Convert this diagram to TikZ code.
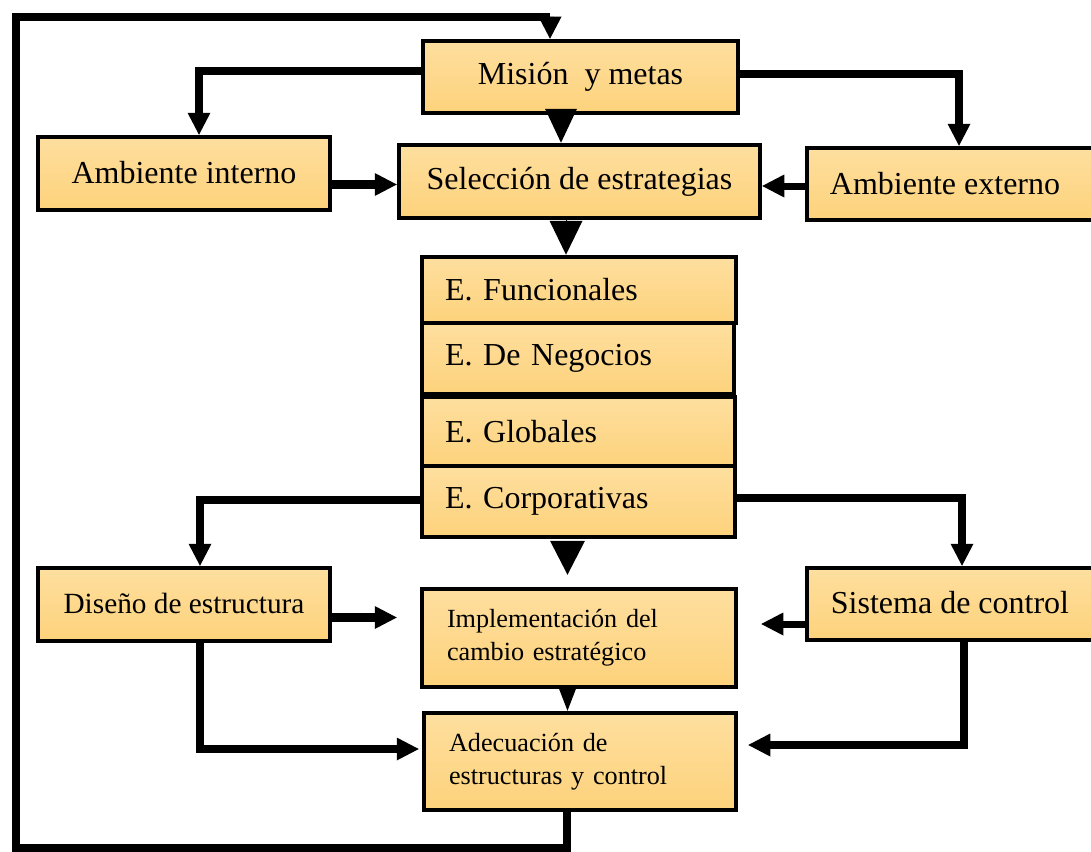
\documentclass[tikz,border=0pt]{standalone}
\usepackage{fontspec}
\setmainfont{Liberation Serif}
\usetikzlibrary{arrows.meta}
\frenchspacing

\definecolor{boxtop}{HTML}{FEDF9F}
\definecolor{boxbot}{HTML}{FDD27B}

\tikzset{
  box/.style={draw=black, line width=4.5pt, top color=boxtop, bottom color=boxbot,
    inner sep=0pt, font=\fontsize{32}{38}\selectfont},
  listbox/.style={box, align=left, inner xsep=23pt, text width=#1},
  smallbox/.style={box, align=left, inner xsep=25pt, text width=#1,
    font=\fontsize{26.2}{33}\selectfont},
  conn/.style={draw=black, line width=8pt, line join=miter,
    -{Triangle[width=23pt, length=22pt, line width=0pt]}},
  bigtip/.style={draw=black, line width=1pt,
    -{Triangle[width=#1, length=34pt, line width=0pt]}},
}

\begin{document}
\begin{tikzpicture}[x=1pt, y=-1pt]
\useasboundingbox (0,0) rectangle (1091,851);

% boxes
\node[box, minimum width=315pt, minimum height=72pt] (mis) at (580.5,77) {Misión~ y metas};
\node[box, minimum width=292pt, minimum height=73pt] (ai) at (184,173.5) {\raisebox{3pt}{Ambiente interno}};
\node[box, minimum width=361pt, minimum height=73pt] (sel) at (579.5,181.5) {Selección de estrategias};
\node[box, minimum width=286pt, minimum height=72pt] (ae) at (950,184) {\hspace*{-10pt}Ambiente externo};

\node[listbox=268pt, minimum height=66pt] (ef) at (579,290) {E. Funcionales};
\node[listbox=266pt, minimum height=71pt] (en) at (578,358.5) {E. De Negocios};
\node[listbox=267pt, minimum height=69pt] (eg) at (578.5,431.5) {E. Globales};
\node[listbox=267pt, minimum height=71pt] (ec) at (578.5,501.5) {E. Corporativas};

\node[box, minimum width=292pt, minimum height=73pt, font=\fontsize{29.3}{35}\selectfont] (dis) at (184,604.5) {\raisebox{3pt}{Diseño de estructura}};
\node[smallbox=264pt, minimum height=98pt] (imp) at (579,638) {Implementación del\\cambio estratégico};
\node[box, minimum width=286pt, minimum height=72pt] (sis) at (950,604) {\raisebox{3pt}{Sistema de control}};
\node[smallbox=262pt, minimum height=97pt] (ade) at (580,761.5) {Adecuación de\\estructuras y control};

% feedback loop corners
\coordinate (loopBL) at (16,848);
\coordinate (loopTL) at (16,17);

% connectors
\draw[conn] ([xshift=-13pt]ade.south) |- (loopBL) -- (loopTL) -| ([xshift=-30.5pt]mis.north);

\draw[conn] ([yshift=6pt]mis.west) -| ([xshift=15pt]ai.north);
\draw[conn] ([yshift=3pt]mis.east) -| ([xshift=9pt]ae.north);
\draw[bigtip=32pt] ([xshift=-19.5pt]mis.south) -- ([xshift=-19.5pt]mis.south |- sel.north);

\draw[conn, line width=9pt, -{Triangle[width=23pt, length=22pt, line width=0pt]}]
  ([yshift=-11pt]ai.east) -- ([yshift=-11pt]ai.east -| sel.west);
\draw[conn, line width=7pt] ([yshift=-2pt]ae.west) -- ([yshift=-2pt]ae.west -| sel.east);

\draw[bigtip=33pt] ([xshift=-13.5pt]sel.south) -- ([xshift=-13.5pt]sel.south |- ef.north);

\draw[conn] ([yshift=1.5pt]ec.west) -| ([xshift=16pt]dis.north);
\draw[conn] ([yshift=4pt]ec.east) -| ([xshift=12pt]sis.north);
\draw[bigtip=35pt, shorten <=4pt, shorten >=12pt] ([xshift=-11pt]ec.south) -- ([xshift=-11pt]ec.south |- imp.north);

\draw[conn, line width=9pt, shorten >=23pt] ([yshift=-13pt]dis.east) -- ([yshift=-13pt]dis.east -| imp.west);
\draw[conn, line width=7pt, shorten >=23pt] ([yshift=-20pt]sis.west) -- ([yshift=-20pt]sis.west -| imp.east);

\draw[conn, line width=5pt, -{Triangle[width=17pt, length=22pt, line width=0pt]}]
  ([xshift=-11.5pt]imp.south) -- ([xshift=-11.5pt]imp.south |- ade.north);

\draw[conn, shorten >=3pt] ([xshift=16pt]dis.south) |- ([yshift=12.5pt]ade.west);
\draw[conn, shorten >=10pt] ([xshift=14pt]sis.south) |- ([yshift=16.5pt]ade.east);
\end{tikzpicture}
\end{document}
